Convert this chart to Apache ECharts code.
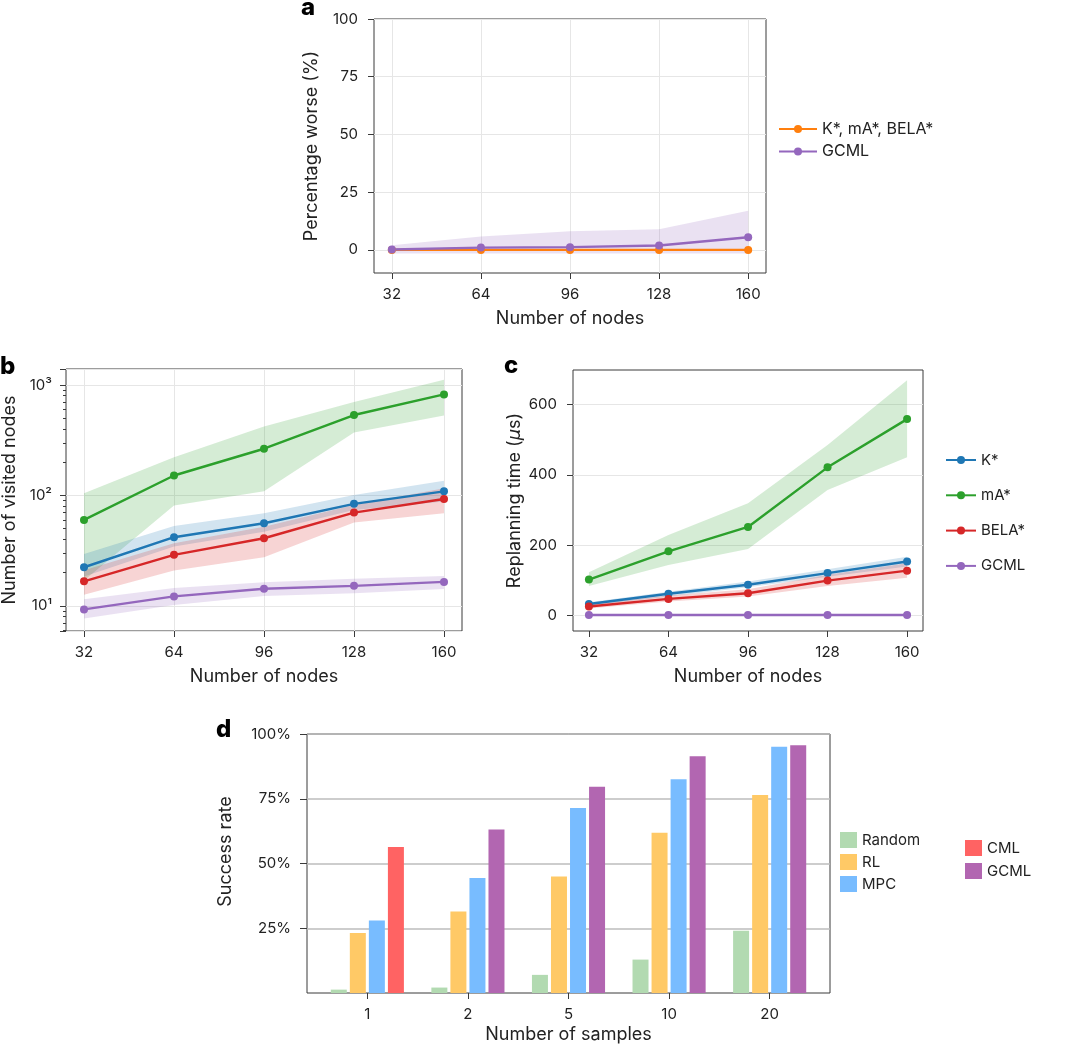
<!DOCTYPE html>
<html>
<head>
<meta charset="utf-8">
<script src="https://cdn.jsdelivr.net/npm/echarts@6/dist/echarts.min.js"></script>
<style>
  html, body { margin: 0; padding: 0; background: #fff; }
  #chart { width: 1080px; height: 1046px; }
</style>
</head>
<body>
<div id="chart"></div>
<script>
// ---- data ----
const nodes = [32, 64, 96, 128, 160];

// a: percentage worse
const aBase = [0, 0, 0, 0, 0];
const aGcml = [0.15, 1.0, 1.2, 1.9, 5.5];
const aGcmlLo = [-1.6, -1.6, -1.6, -1.6, -1.6];
const aGcmlHi = [2.0, 5.8, 8.1, 9.0, 17.0];
const pctTicks = [0, 25, 50, 75, 100];

// b: number of visited nodes (log)
const bK = [22.4, 41.9, 56.1, 84, 109];
const bKLo = [18.5, 34.5, 47, 74, 88];
const bKHi = [29.6, 53, 69, 101, 136];
const bMA = [60.1, 151.7, 265, 535, 822];
const bMALo = [17, 81, 109, 372, 531];
const bMAHi = [105, 222, 422, 701, 1117];
const bBela = [16.7, 29, 41, 70, 93];
const bBelaLo = [12.6, 20.9, 27.6, 57, 69];
const bBelaHi = [21, 37, 52, 82, 116];
const bGcml = [9.3, 12.2, 14.3, 15.2, 16.5];
const bGcmlLo = [7.7, 10.2, 12.3, 13.0, 14.2];
const bGcmlHi = [11.5, 14.5, 16.4, 17.6, 18.7];
const logTicks = [10, 100, 1000];
const logTickLabels = ['10\u00b9', '10\u00b2', '10\u00b3'];

// c: replanning time (us)
const cK = [32, 61, 87, 120, 153];
const cKLo = [27, 53, 80, 110, 139];
const cKHi = [37, 67, 96, 131, 167];
const cMA = [101.6, 182, 251.6, 421.5, 559];
const cMALo = [83.5, 143, 189, 357, 450];
const cMAHi = [122.5, 229, 319, 485, 670];
const cBela = [25, 46.5, 62.7, 98.7, 127];
const cBelaLo = [19, 39, 53, 83.5, 107];
const cBelaHi = [31, 56, 74, 115, 148];
const cGcml = [0.5, 0.5, 0.5, 0.5, 0.5];
const timeTicks = [0, 200, 400, 600];

// d: success rate (%)
const sampleLabels = ['1', '2', '5', '10', '20'];
const dRandom = [1.3, 2.1, 7.0, 12.9, 24.0];
const dRL = [23.2, 31.5, 45.0, 61.9, 76.4];
const dMPC = [28.0, 44.4, 71.4, 82.5, 95.1];
const dCML = [56.4, null, null, null, null];
const dGCML = [null, 63.1, 79.6, 91.4, 95.7];
const successTicks = [25, 50, 75, 100];

// ---- styles ----
const ink = '#222';
const frame = '#3a3a3a';
const gridCol = '#e6e6e6';
const C = { blue: '#1f77b4', orange: '#ff7f0e', green: '#2ca02c', red: '#d62728', purple: '#9467bd' };
const barC = { random: '#b2dab1', rl: '#ffc966', mpc: '#78bcff', cml: '#ff6363', gcml: '#b266b1' };

const legendNames = {
  a_base: 'K*, mA*, BELA*', a_gcml: 'GCML',
  c_k: 'K*', c_ma: 'mA*', c_bela: 'BELA*', c_gcml: 'GCML',
  d_random: 'Random', d_rl: 'RL', d_mpc: 'MPC', d_cml: 'CML', d_gcml: 'GCML'
};

function rgba(hex, a) {
  const n = parseInt(hex.slice(1), 16);
  return 'rgba(' + (n >> 16) + ',' + ((n >> 8) & 255) + ',' + (n & 255) + ',' + a + ')';
}

function lineSeries(name, gi, color, ys) {
  return {
    type: 'line', name: name, xAxisIndex: gi, yAxisIndex: gi,
    data: nodes.map((n, i) => [n, ys[i]]),
    symbol: 'circle', symbolSize: 8, z: 3,
    lineStyle: { color: color, width: 2.4 },
    itemStyle: { color: color }
  };
}

function bandSeries(name, gi, color, lo, hi) {
  return {
    type: 'custom', name: name, xAxisIndex: gi, yAxisIndex: gi, silent: true, z: 1,
    data: nodes.map((n, i) => [n, lo[i], hi[i]]),
    encode: { x: 0, y: [1, 2] },
    renderItem: function (params, api) {
      if (params.dataIndex !== 0) return null;
      const top = nodes.map((n, i) => api.coord([n, hi[i]]));
      const bot = nodes.map((n, i) => api.coord([n, lo[i]])).reverse();
      return { type: 'polygon', shape: { points: top.concat(bot) }, style: { fill: rgba(color, 0.2) } };
    }
  };
}

function xNodes(gi, split) {
  return {
    type: 'value', gridIndex: gi, min: 25.6, max: 166.4,
    name: 'Number of nodes', nameLocation: 'middle', nameGap: 37,
    nameTextStyle: { fontSize: 18, color: ink },
    axisLine: { show: false, onZero: false },
    axisTick: { show: true, length: 6, lineStyle: { color: frame }, customValues: nodes },
    axisLabel: { fontSize: 15, color: ink, margin: 14, customValues: nodes },
    splitLine: { show: split, lineStyle: { color: gridCol } }
  };
}

function yLinear(gi, min, max, ticks, name, gap) {
  return {
    type: 'value', gridIndex: gi, min: min, max: max,
    name: name, nameLocation: 'middle', nameGap: gap,
    nameTextStyle: { fontSize: 18, color: ink, rich: { i: { fontSize: 18, color: ink, fontStyle: 'italic', fontFamily: 'DejaVu Sans' } } },
    axisLine: { show: false, onZero: false },
    axisTick: { show: true, length: 6, lineStyle: { color: frame }, customValues: ticks },
    axisLabel: { fontSize: 15, color: ink, margin: 16, customValues: ticks },
    splitLine: { show: true, lineStyle: { color: gridCol } }
  };
}

const gridBase = { show: true, borderColor: frame, borderWidth: 1, backgroundColor: 'transparent' };

const option = {
  animation: false,
  textStyle: { fontFamily: 'Inter' },
  grid: [
    Object.assign({ left: 374, top: 19, width: 392, height: 254 }, gridBase),
    Object.assign({ left: 66, top: 369, width: 396, height: 262 }, gridBase),
    Object.assign({ left: 573, top: 370, width: 350, height: 261 }, gridBase),
    Object.assign({ left: 307, top: 734, width: 523, height: 259 }, gridBase)
  ],
  xAxis: [
    xNodes(0, true),
    xNodes(1, true),
    xNodes(2, false),
    {
      type: 'value', gridIndex: 3, min: -0.6, max: 4.6,
      name: 'Number of samples', nameLocation: 'middle', nameGap: 33,
      nameTextStyle: { fontSize: 18, color: ink },
      axisLine: { show: false, onZero: false },
      axisTick: { show: true, length: 6, lineStyle: { color: frame }, customValues: [0, 1, 2, 3, 4] },
      axisLabel: { fontSize: 15, color: ink, margin: 14, customValues: [0, 1, 2, 3, 4],
        formatter: v => sampleLabels[Math.round(v)] },
      splitLine: { show: false }
    }
  ],
  yAxis: [
    yLinear(0, -10, 100, pctTicks, 'Percentage worse (%)', 53),
    {
      type: 'log', logBase: 10, gridIndex: 1, min: 5.93, max: 1397,
      name: 'Number of visited nodes', nameLocation: 'middle', nameGap: 47,
      nameTextStyle: { fontSize: 18, color: ink },
      axisLine: { show: false, onZero: false },
      axisTick: { show: true, length: 6, lineStyle: { color: frame } },
      minorTick: { show: true, splitNumber: 9, length: 3, lineStyle: { color: frame } },
      axisLabel: {
        fontSize: 15, color: ink, margin: 14, showMinLabel: false, showMaxLabel: false,
        formatter: v => { const i = logTicks.indexOf(Math.round(v)); return i < 0 ? '' : logTickLabels[i]; }
      },
      splitLine: { show: true, lineStyle: { color: gridCol } }
    },
    yLinear(2, -45, 699, timeTicks, 'Replanning time ({i|\u03bc}s)', 49),
    {
      type: 'value', gridIndex: 3, min: 0, max: 100,
      name: 'Success rate', nameLocation: 'middle', nameGap: 72,
      nameTextStyle: { fontSize: 18, color: ink, padding: [0, 0, 0, 24] },
      axisLine: { show: false, onZero: false },
      axisTick: { show: true, length: 7, lineStyle: { color: frame }, customValues: successTicks },
      axisLabel: { fontSize: 15, color: ink, margin: 16, customValues: successTicks, formatter: v => v + '%' },
      splitLine: { show: true, lineStyle: { color: '#bdbdbd', width: 1.5 } }
    }
  ],
  legend: [
    {
      orient: 'vertical', left: 778, top: 120, padding: 0, itemGap: 4.5,
      itemWidth: 38, itemHeight: 10, data: ['a_base', 'a_gcml'],
      formatter: n => legendNames[n],
      textStyle: { fontSize: 16, color: ink, lineHeight: 18 }
    },
    {
      orient: 'vertical', left: 945, top: 451, padding: 0, itemGap: 17.3,
      itemWidth: 30, itemHeight: 10, data: ['c_k', 'c_ma', 'c_bela', 'c_gcml'],
      formatter: n => legendNames[n],
      textStyle: { fontSize: 15, color: ink, lineHeight: 18 }
    },
    {
      orient: 'vertical', left: 840, top: 831, padding: 0, itemGap: 4,
      itemWidth: 17, itemHeight: 16, icon: 'rect', data: ['d_random', 'd_rl', 'd_mpc'],
      formatter: n => legendNames[n],
      textStyle: { fontSize: 15, color: ink, lineHeight: 18 }
    },
    {
      orient: 'vertical', left: 965, top: 839, padding: 0, itemGap: 5,
      itemWidth: 17, itemHeight: 16, icon: 'rect', data: ['d_cml', 'd_gcml'],
      formatter: n => legendNames[n],
      textStyle: { fontSize: 15, color: ink, lineHeight: 18 }
    }
  ],
  graphic: [
    { type: 'text', left: 301, top: -4, style: { text: 'a', font: '800 24px Inter', fill: '#000' } },
    { type: 'text', left: 0, top: 355, style: { text: 'b', font: '800 24px Inter', fill: '#000' } },
    { type: 'text', left: 504, top: 354, style: { text: 'c', font: '800 24px Inter', fill: '#000' } },
    { type: 'text', left: 216, top: 718, style: { text: 'd', font: '800 24px Inter', fill: '#000' } }
  ],
  series: [
    // a
    bandSeries('a_band_gcml', 0, C.purple, aGcmlLo, aGcmlHi),
    lineSeries('a_base', 0, C.orange, aBase),
    lineSeries('a_gcml', 0, C.purple, aGcml),
    // b
    bandSeries('b_band_ma', 1, C.green, bMALo, bMAHi),
    bandSeries('b_band_k', 1, C.blue, bKLo, bKHi),
    bandSeries('b_band_bela', 1, C.red, bBelaLo, bBelaHi),
    bandSeries('b_band_gcml', 1, C.purple, bGcmlLo, bGcmlHi),
    lineSeries('b_ma', 1, C.green, bMA),
    lineSeries('b_k', 1, C.blue, bK),
    lineSeries('b_bela', 1, C.red, bBela),
    lineSeries('b_gcml', 1, C.purple, bGcml),
    // c
    bandSeries('c_band_ma', 2, C.green, cMALo, cMAHi),
    bandSeries('c_band_k', 2, C.blue, cKLo, cKHi),
    bandSeries('c_band_bela', 2, C.red, cBelaLo, cBelaHi),
    lineSeries('c_k', 2, C.blue, cK),
    lineSeries('c_ma', 2, C.green, cMA),
    lineSeries('c_bela', 2, C.red, cBela),
    lineSeries('c_gcml', 2, C.purple, cGcml),
    // d
    ...[
      ['d_random', dRandom, barC.random, null],
      ['d_rl', dRL, barC.rl, null],
      ['d_mpc', dMPC, barC.mpc, null],
      ['d_cml', dCML, barC.cml, 'last'],
      ['d_gcml', dGCML, barC.gcml, 'last']
    ].map(([name, vals, color, stack]) => ({
      type: 'bar', name: name, xAxisIndex: 3, yAxisIndex: 3,
      stack: stack || undefined,
      data: vals.map((v, i) => [i, v]),
      barWidth: 16, barGap: '19%',
      itemStyle: { color: color }
    }))
  ]
};

const chart = echarts.init(document.getElementById('chart'));
chart.setOption(option);
window.addEventListener('resize', () => chart.resize());
</script>
</body>
</html>
